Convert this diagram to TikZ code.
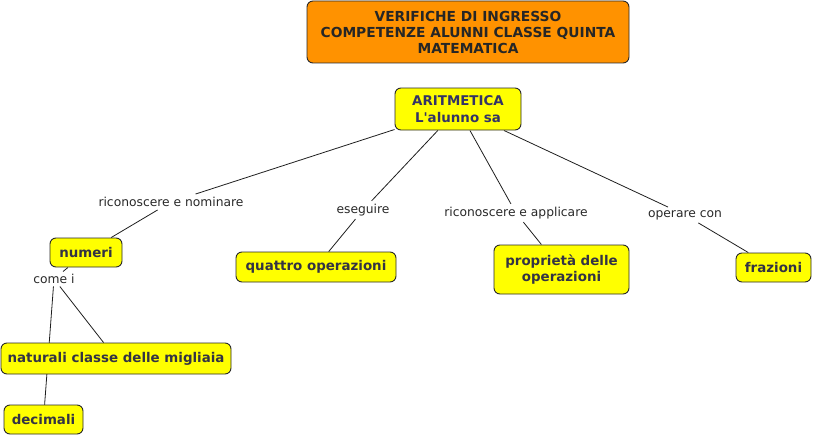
\documentclass[tikz,border=0pt]{standalone}
\usepackage{fontspec}
\setmainfont{DejaVu Sans}[Ligatures=TeXOff]
\usetikzlibrary{backgrounds}
\definecolor{ttlfill}{RGB}{255,146,0}
\definecolor{yel}{RGB}{255,255,0}
\definecolor{boxline}{RGB}{40,40,40}
\definecolor{nodetxt}{RGB}{51,51,68}
\definecolor{arittxt}{RGB}{51,51,102}
\definecolor{lbltxt}{RGB}{40,40,40}
\definecolor{linec}{RGB}{30,30,30}
\begin{document}
\begin{tikzpicture}[x=1pt,y=-1pt,
  box/.style={draw=boxline, fill=yel, rounded corners=6pt, line width=0.9pt,
    font=\fontsize{13.4}{16}\selectfont\bfseries, text=nodetxt, align=center, inner sep=0pt},
  ttlbox/.style={box, fill=ttlfill, text=black!85, font=\fontsize{13.8}{16}\selectfont\bfseries},
  lbl/.style={font=\fontsize{12.3}{14}\selectfont, text=lbltxt, inner sep=3pt},
  conn/.style={draw=linec, line width=0.8pt}]
\useasboundingbox (0,0) rectangle (814,436);

\node[ttlbox, minimum width=322pt, minimum height=62pt] (title) at (468,32)
  {VERIFICHE DI INGRESSO\\COMPETENZE ALUNNI CLASSE QUINTA\\MATEMATICA};
\node[box, text=arittxt, font=\fontsize{13.4}{17}\selectfont\bfseries, minimum width=126pt, minimum height=42pt] (arit) at (458,109)
  {ARITMETICA\\L'alunno sa};
\node[box, minimum width=72pt, minimum height=29pt] (numeri) at (86,252.5) {numeri};
\node[box, minimum width=160pt, minimum height=30pt] (quattro) at (316,267) {quattro operazioni};
\node[box, minimum width=135pt, minimum height=49pt] (prop) at (561.5,269.5) {proprietà delle\\operazioni};
\node[box, minimum width=75pt, minimum height=29pt] (fraz) at (773.5,267.5) {frazioni};
\node[box, minimum width=230pt, minimum height=31pt] (nat) at (116,358.5) {naturali classe delle migliaia};
\node[box, minimum width=79pt, minimum height=29pt] (dec) at (43.5,419.5) {decimali};

\node[lbl] (l1) at (171,202) {riconoscere e nominare};
\node[lbl] (l2) at (363,210) {eseguire};
\node[lbl] (l3) at (516,213) {riconoscere e applicare};
\node[lbl] (l4) at (685,215) {operare con};
\node[lbl, inner sep=2.5pt] (l5) at (54,279) {come i};

\begin{pgfonlayer}{background}
\draw[conn] (arit) -- (l1);
\draw[conn] (l1) -- (numeri);
\draw[conn] (arit) -- (l2);
\draw[conn] (l2) -- (quattro);
\draw[conn] (arit) -- (l3);
\draw[conn] (l3) -- (prop);
\draw[conn] (arit) -- (l4);
\draw[conn] (l4) -- (fraz);
\draw[conn] (numeri) -- (l5);
\draw[conn] (l5) -- (nat);
\draw[conn] (l5) -- (dec);
\end{pgfonlayer}
\end{tikzpicture}
\end{document}
